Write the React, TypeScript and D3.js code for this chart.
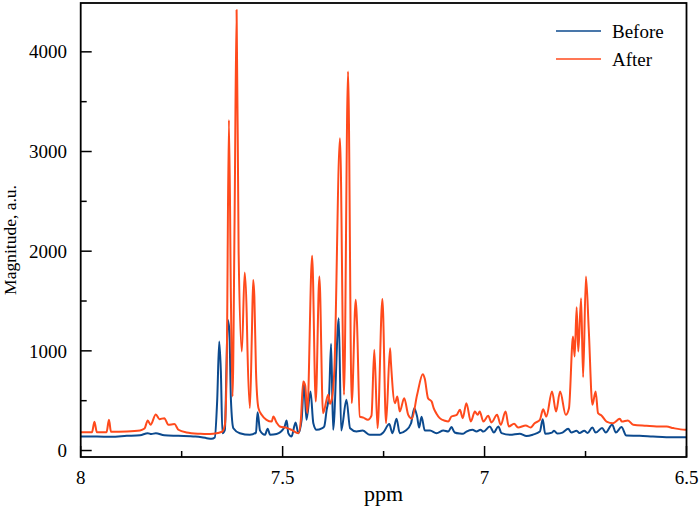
import React from 'react';
import * as d3 from 'd3';

// tick values
const ppmTicks = [8, 7.5, 7, 6.5];
const ppmMinor = [7.75, 7.25, 6.75];
const magTicks = [0, 1000, 2000, 3000, 4000];
const magMinor = [500, 1500, 2500, 3500];

const seriesNames = ['Before', 'After'];
const seriesColors = ['#0c4a8e', '#ff4a1c'];

// [ppm, magnitude]
const before: [number, number][] = [
  [8.0, 140], [7.96, 140], [7.925, 138], [7.886, 147], [7.853, 154], [7.834, 174], [7.825, 165],
  [7.814, 174], [7.793, 152], [7.758, 147], [7.716, 140], [7.688, 124], [7.676, 117], [7.668, 130],
  [7.662, 508], [7.657, 1093], [7.653, 800], [7.649, 174], [7.643, 208], [7.639, 843], [7.636, 1311],
  [7.632, 1211], [7.628, 508], [7.622, 224], [7.606, 174], [7.581, 157], [7.566, 180], [7.562, 385],
  [7.556, 200], [7.544, 157], [7.537, 218], [7.531, 157], [7.515, 165], [7.496, 230], [7.49, 301],
  [7.486, 174], [7.478, 140], [7.468, 281], [7.461, 174], [7.453, 308], [7.447, 682], [7.441, 308],
  [7.431, 592], [7.424, 274], [7.416, 208], [7.403, 222], [7.397, 241], [7.391, 408], [7.385, 559],
  [7.38, 1070], [7.375, 208], [7.361, 1328], [7.355, 200], [7.342, 509], [7.333, 224], [7.317, 191],
  [7.302, 200], [7.284, 157], [7.259, 157], [7.25, 185], [7.236, 265], [7.228, 174], [7.218, 320],
  [7.21, 174], [7.195, 200], [7.182, 274], [7.174, 425], [7.167, 340], [7.162, 230], [7.156, 340],
  [7.148, 200], [7.135, 201], [7.119, 174], [7.102, 201], [7.09, 190], [7.082, 235], [7.074, 181],
  [7.061, 170], [7.053, 168], [7.045, 190], [7.03, 208], [7.02, 190], [7.01, 208], [7.003, 190],
  [6.987, 241], [6.977, 181], [6.966, 241], [6.958, 174], [6.937, 157], [6.913, 168], [6.896, 145],
  [6.88, 160], [6.863, 191], [6.856, 315], [6.85, 168], [6.833, 180], [6.828, 198], [6.82, 170],
  [6.807, 180], [6.793, 218], [6.785, 180], [6.772, 198], [6.765, 175], [6.753, 198], [6.745, 175],
  [6.733, 231], [6.725, 180], [6.709, 225], [6.7, 180], [6.684, 261], [6.675, 180], [6.661, 235],
  [6.649, 150], [6.616, 147], [6.583, 140], [6.55, 134], [6.5, 134],
];

const after: [number, number][] = [
  [8.0, 184], [7.972, 184], [7.966, 288], [7.96, 184], [7.936, 184], [7.93, 308], [7.925, 188],
  [7.886, 191], [7.853, 201], [7.842, 220], [7.834, 301], [7.827, 258], [7.814, 361], [7.805, 315],
  [7.793, 325], [7.783, 258], [7.768, 265], [7.758, 208], [7.738, 181], [7.705, 168], [7.688, 165],
  [7.672, 168], [7.65, 188], [7.643, 258], [7.638, 1010], [7.633, 3317], [7.628, 1500], [7.624, 542],
  [7.619, 2300], [7.614, 4420], [7.609, 2000], [7.601, 993], [7.594, 1785], [7.589, 1378], [7.587, 1000],
  [7.581, 425], [7.576, 1200], [7.573, 1712], [7.57, 1545], [7.566, 800], [7.56, 428], [7.552, 358],
  [7.54, 308], [7.527, 291], [7.523, 341], [7.515, 280], [7.507, 241], [7.49, 227], [7.478, 207],
  [7.461, 174], [7.455, 300], [7.449, 692], [7.444, 650], [7.439, 375], [7.427, 1953], [7.418, 491],
  [7.409, 1745], [7.4, 375], [7.387, 559], [7.383, 470], [7.378, 520], [7.372, 800], [7.358, 3133],
  [7.348, 559], [7.338, 3802], [7.329, 475], [7.319, 1512], [7.316, 1300], [7.309, 341], [7.3, 330],
  [7.289, 308], [7.28, 350], [7.273, 1010], [7.265, 224], [7.253, 1521], [7.244, 274], [7.234, 1027],
  [7.232, 893], [7.222, 475], [7.216, 541], [7.21, 391], [7.199, 525], [7.189, 358], [7.18, 320],
  [7.167, 559], [7.153, 766], [7.148, 720], [7.14, 525], [7.131, 491], [7.126, 425], [7.119, 370],
  [7.111, 325], [7.098, 298], [7.09, 291], [7.082, 341], [7.069, 358], [7.061, 408], [7.054, 325],
  [7.045, 475], [7.034, 291], [7.024, 391], [7.017, 358], [7.012, 391], [7.003, 291], [6.991, 348],
  [6.983, 281], [6.969, 358], [6.96, 258], [6.948, 391], [6.94, 241], [6.927, 268], [6.917, 231],
  [6.898, 251], [6.886, 231], [6.876, 274], [6.863, 308], [6.855, 415], [6.847, 341], [6.833, 592],
  [6.823, 391], [6.813, 592], [6.799, 358], [6.791, 425], [6.781, 1143], [6.777, 943], [6.772, 1438],
  [6.768, 993], [6.761, 1529], [6.756, 736], [6.749, 1745], [6.742, 1211], [6.733, 458], [6.725, 592],
  [6.719, 375], [6.71, 350], [6.698, 291], [6.682, 274], [6.665, 318], [6.66, 290], [6.645, 301],
  [6.632, 258], [6.599, 248], [6.574, 241], [6.549, 240], [6.533, 225], [6.504, 208], [6.5, 208],
];

const W = 700;
const H = 517;
const left = 80.7;
const right = 686.5;
const top = 3;
const bottom = 457;
const font = '"Liberation Serif", "Times New Roman", serif';

export default function App() {
  const x = d3.scaleLinear().domain([8, 6.5]).range([left, right]);
  const y = d3.scaleLinear().domain([-65, 4490]).range([bottom, top]);
  const line = d3
    .line<[number, number]>()
    .x((d) => x(d[0]))
    .y((d) => y(d[1]))
    .curve(d3.curveMonotoneX);

  const series = [before, after];

  return (
    <svg width={W} height={H} style={{ position: 'absolute', left: 0, top: 0, background: '#fff' }} fontFamily={font}>
      <defs>
        <clipPath id="plot">
          <rect x={left} y={top} width={right - left} height={bottom - top} />
        </clipPath>
      </defs>
      <g clipPath="url(#plot)" fill="none" strokeWidth={2} strokeLinejoin="round">
        {series.map((s, i) => (
          <path key={seriesNames[i]} d={line(s) ?? ''} stroke={seriesColors[i]} />
        ))}
      </g>

      {/* ticks, inward */}
      <g stroke="#000" strokeWidth={1.5}>
        {ppmTicks.map((t) => (
          <line key={'xm' + t} x1={x(t)} x2={x(t)} y1={bottom} y2={bottom - 11} />
        ))}
        {ppmMinor.map((t) => (
          <line key={'xn' + t} x1={x(t)} x2={x(t)} y1={bottom} y2={bottom - 6} />
        ))}
        {magTicks.map((t) => (
          <line key={'ym' + t} x1={left} x2={left + 11} y1={y(t)} y2={y(t)} />
        ))}
        {magMinor.map((t) => (
          <line key={'yn' + t} x1={left} x2={left + 6} y1={y(t)} y2={y(t)} />
        ))}
      </g>
      <rect x={left} y={top} width={right - left} height={bottom - top} fill="none" stroke="#000" strokeWidth={1.8} />

      <g fontSize={19} fill="#000">
        {ppmTicks.map((t) => (
          <text key={'xl' + t} x={x(t)} y={484} textAnchor="middle">
            {d3.format('')(t)}
          </text>
        ))}
        {magTicks.map((t) => (
          <text key={'yl' + t} x={67} y={y(t)} dy="0.35em" textAnchor="end">
            {t}
          </text>
        ))}
      </g>
      <text x={(left + right) / 2} y={501} textAnchor="middle" fontSize={22}>
        ppm
      </text>
      <text transform="translate(16,240) rotate(-90)" textAnchor="middle" fontSize={17.5}>
        Magnitude, a.u.
      </text>

      {/* legend */}
      <g fontSize={19}>
        {seriesNames.map((n, i) => (
          <g key={n} transform={`translate(556,${31 + i * 28})`}>
            <line x1={0} x2={45} y1={0} y2={0} stroke={seriesColors[i]} strokeWidth={1.5} />
            <text x={56} y={0} dy="0.35em">
              {n}
            </text>
          </g>
        ))}
      </g>
    </svg>
  );
}
